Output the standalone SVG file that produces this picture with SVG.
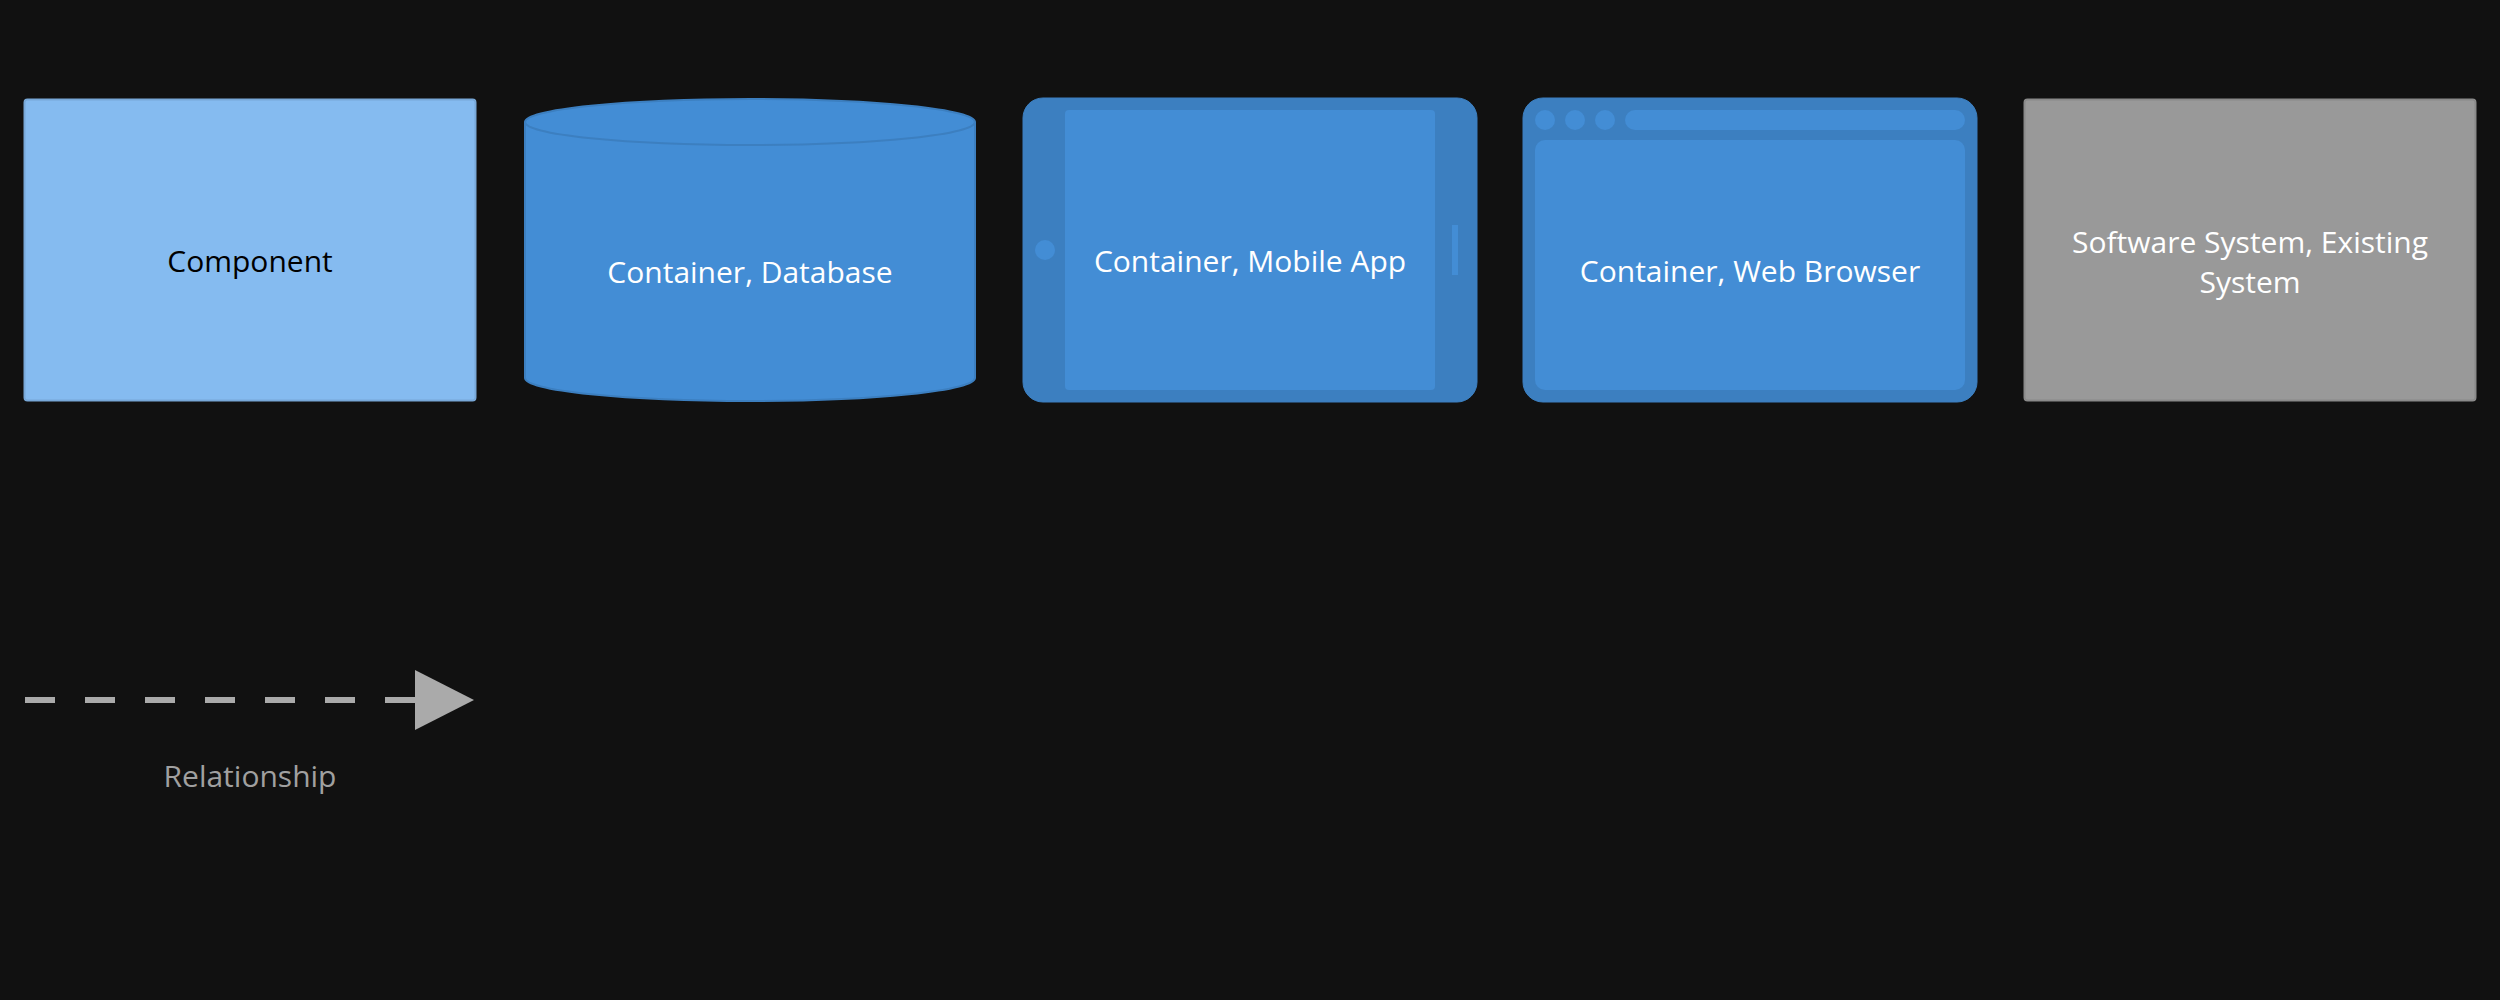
<svg xmlns="http://www.w3.org/2000/svg" width="2500" height="1000" viewBox="0 0 2500 1000">
<style>
.lbl{font-family:"Open Sans","Liberation Sans",sans-serif;font-size:30px;text-anchor:middle;fill:#ffffff}
.dark{fill:#000000}
.rel{fill:#a0a0a0}
</style>
<defs>
<marker id="arrow" markerUnits="userSpaceOnUse" markerWidth="60" markerHeight="60" refX="0" refY="30" orient="auto">
<path d="M0,0 L59,30 L0,60 Z" fill="#aaaaaa"/>
</marker>
</defs>
<rect width="2500" height="1000" fill="#111111"/>
<g id="component">
<rect x="24.5" y="99.5" width="451" height="301" rx="3" fill="#85bbf0" stroke="#78a8d8" stroke-width="2"/>
<text class="lbl dark" x="250" y="272">Component</text>
</g>
<g id="container-database">
<path d="M525,122 A225,23 0 0 1 975,122 L975,378 A225,23 0 0 1 525,378 Z" fill="#438dd5" stroke="#3c7fc0" stroke-width="2"/>
<path d="M525,122 A225,23 0 0 0 975,122" fill="none" stroke="#3c7fc0" stroke-width="2"/>
<text class="lbl" x="750" y="283">Container, Database</text>
</g>
<g id="container-mobile-app">
<rect x="1023" y="98" width="454" height="304" rx="20" fill="#3c7fc0" stroke="#3c7fc0" stroke-width="1"/>
<rect x="1065" y="110" width="370" height="280" rx="4" fill="#438dd5"/>
<circle cx="1045" cy="250" r="10" fill="#438dd5"/>
<rect x="1452" y="225" width="6" height="50" fill="#438dd5"/>
<text class="lbl" x="1250" y="272">Container, Mobile App</text>
</g>
<g id="container-web-browser">
<rect x="1523" y="98" width="454" height="304" rx="20" fill="#3c7fc0" stroke="#3c7fc0" stroke-width="1"/>
<circle cx="1545" cy="120" r="10" fill="#438dd5"/>
<circle cx="1575" cy="120" r="10" fill="#438dd5"/>
<circle cx="1605" cy="120" r="10" fill="#438dd5"/>
<rect x="1625" y="110" width="340" height="20" rx="10" fill="#438dd5"/>
<rect x="1535" y="140" width="430" height="250" rx="10" fill="#438dd5"/>
<text class="lbl" x="1750" y="282">Container, Web Browser</text>
</g>
<g id="software-system-existing">
<rect x="2024.5" y="99.5" width="451" height="301" rx="3" fill="#999999" stroke="#8a8a8a" stroke-width="2"/>
<text class="lbl" x="2250" y="253">Software System, Existing</text>
<text class="lbl" x="2250" y="293">System</text>
</g>
<g id="connectors">
<line x1="25" y1="700" x2="415" y2="700" stroke="#aaaaaa" stroke-width="6" stroke-dasharray="30,30" marker-end="url(#arrow)"/>
<text class="lbl rel" x="250" y="787">Relationship</text>
</g>
</svg>
